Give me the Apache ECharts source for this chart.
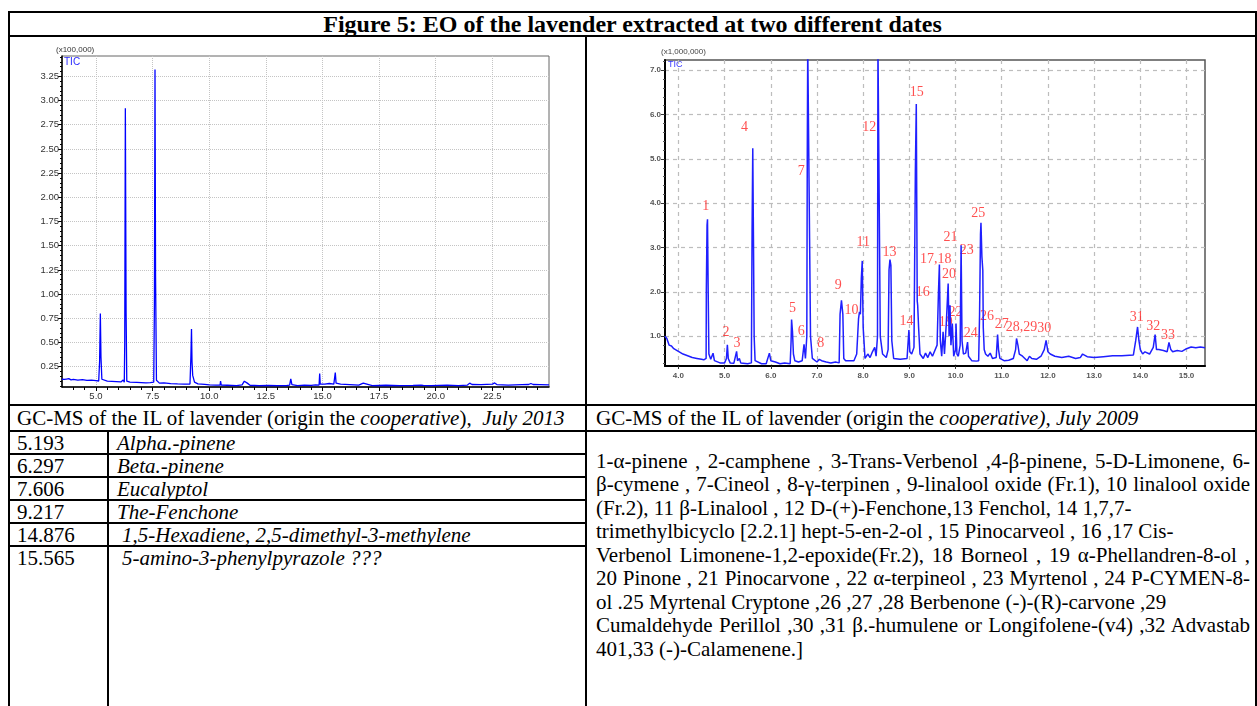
<!DOCTYPE html>
<html lang="en">
<head>
    <meta charset="UTF-8">
    <title>Figure 5: EO of the lavender</title>
    <style type="text/css">
        *{
            margin: 0;
            padding: 0;
        }
        body{
            width: 1257px;
            height: 706px;
            position: relative;
            overflow: hidden;
            background: #fff;
            font-family: "Liberation Serif", "Times New Roman", serif;
            color: #000;
        }
        .ln{ position: absolute; background: #000; }
        .t{
            position: absolute;
            font-size: 21px;
            line-height: 24px;
            white-space: nowrap;
        }
        .j{
            left: 596px;
            width: 654px;
            text-align: justify;
            text-align-last: justify;
        }
        .chart{ position: absolute; }
    </style>
</head>
<body>
    <!-- table lines -->
    <div class="ln" style="left:8px;top:11px;width:1249px;height:2px"></div>
    <div class="ln" style="left:8px;top:35px;width:1249px;height:2px"></div>
    <div class="ln" style="left:8px;top:404px;width:1249px;height:2px"></div>
    <div class="ln" style="left:8px;top:430px;width:1249px;height:2px"></div>
    <div class="ln" style="left:8px;top:453px;width:579px;height:2px"></div>
    <div class="ln" style="left:8px;top:476px;width:579px;height:2px"></div>
    <div class="ln" style="left:8px;top:499px;width:579px;height:2px"></div>
    <div class="ln" style="left:8px;top:522px;width:579px;height:2px"></div>
    <div class="ln" style="left:8px;top:545px;width:579px;height:2px"></div>
    <div class="ln" style="left:8px;top:11px;width:2px;height:695px"></div>
    <div class="ln" style="left:585px;top:36px;width:2px;height:670px"></div>
    <div class="ln" style="left:107px;top:431px;width:2px;height:275px"></div>
    <div class="ln" style="left:1255px;top:11px;width:2px;height:695px"></div>

    <div class="t" style="left:8px;width:1249px;top:12px;text-align:center;font-weight:bold;font-size:24px;line-height:24px">Figure 5: EO of the lavender extracted at two different dates</div>

    <div id="c1" class="chart" style="left:10px;top:38px;width:575px;height:366px"></div>
    <div id="c2" class="chart" style="left:588px;top:38px;width:667px;height:366px"></div>

    <div class="t" style="left:17px;top:406px">GC-MS of the IL of lavender (origin the <i>cooperative</i>),&nbsp; <i>July 2013</i></div>
    <div class="t" style="left:596px;top:406px">GC-MS of the IL of lavender (origin the <i>cooperative), July 2009</i></div>

    <div class="t" style="left:17px;top:431px">5.193</div>
    <div class="t" style="left:117px;top:431px"><i>Alpha.-pinene</i></div>
    <div class="t" style="left:17px;top:454px">6.297</div>
    <div class="t" style="left:117px;top:454px"><i>Beta.-pinene</i></div>
    <div class="t" style="left:17px;top:477px">7.606</div>
    <div class="t" style="left:117px;top:477px"><i>Eucalyptol</i></div>
    <div class="t" style="left:17px;top:500px">9.217</div>
    <div class="t" style="left:117px;top:500px"><i>The-Fenchone</i></div>
    <div class="t" style="left:17px;top:523px">14.876</div>
    <div class="t" style="left:122px;top:523px"><i>1,5-Hexadiene, 2,5-dimethyl-3-methylene</i></div>
    <div class="t" style="left:17px;top:546px">15.565</div>
    <div class="t" style="left:122px;top:546px"><i>5-amino-3-phenylpyrazole ???</i></div>

    <div class="t j" style="top:449px">1-α-pinene , 2-camphene , 3-Trans-Verbenol ,4-β-pinene, 5-D-Limonene, 6-</div>
    <div class="t j" style="top:472px">β-cymene , 7-Cineol , 8-γ-terpinen , 9-linalool oxide (Fr.1), 10 linalool oxide</div>
    <div class="t" style="left:596px;top:496px">(Fr.2), 11 β-Linalool , 12 D-(+)-Fenchone,13 Fenchol, 14 1,7,7-</div>
    <div class="t" style="left:596px;top:519px">trimethylbicyclo [2.2.1] hept-5-en-2-ol , 15 Pinocarveol , 16 ,17 Cis-</div>
    <div class="t j" style="top:543px">Verbenol Limonene-1,2-epoxide(Fr.2), 18 Borneol , 19 α-Phellandren-8-ol ,</div>
    <div class="t j" style="top:566px">20 Pinone , 21 Pinocarvone , 22 α-terpineol , 23 Myrtenol , 24 P-CYMEN-8-</div>
    <div class="t" style="left:596px;top:590px">ol .25 Myrtenal Cryptone ,26 ,27 ,28 Berbenone (-)-(R)-carvone ,29</div>
    <div class="t j" style="top:613px">Cumaldehyde Perillol ,30 ,31 β.-humulene or Longifolene-(v4) ,32 Advastab</div>
    <div class="t" style="left:596px;top:637px">401,33 (-)-Calamenene.]</div>

    <script src="https://cdn.jsdelivr.net/npm/echarts@6/dist/echarts.min.js"></script>
    <script type="text/javascript">
        // July 2013 TIC: [retention time (min), intensity (x100,000)]
        var tic2013 = [
            [3.5,0.12],[3.6,0.118],[3.7,0.122],[3.8,0.126],[3.9,0.114],[4.0,0.118],[4.2,0.112],[4.4,0.116],
            [4.6,0.108],[4.8,0.11],[5.0,0.105],[5.12,0.102],[5.16,0.30],[5.193,0.80],[5.22,0.35],[5.26,0.12],
            [5.3,0.106],[5.5,0.10],[5.7,0.098],[5.9,0.095],[6.1,0.092],[6.2,0.112],[6.25,0.09],[6.27,0.5],
            [6.297,2.92],[6.33,0.8],[6.36,0.10],[6.5,0.09],[6.8,0.088],[7.0,0.085],[7.2,0.082],[7.4,0.086],
            [7.55,0.09],[7.58,0.9],[7.606,3.32],[7.63,1.2],[7.67,0.11],[7.8,0.08],[8.0,0.082],[8.3,0.075],
            [8.6,0.072],[8.9,0.07],[9.15,0.07],[9.19,0.35],[9.217,0.64],[9.24,0.3],[9.27,0.16],[9.35,0.09],
            [9.5,0.072],[9.8,0.068],[10.0,0.062],[10.3,0.06],[10.48,0.06],[10.5,0.10],[10.53,0.06],[10.8,0.058],
            [11.2,0.055],[11.45,0.062],[11.55,0.10],[11.6,0.12],[11.68,0.08],[11.8,0.058],[12.2,0.055],[12.6,0.056],
            [13.0,0.054],[13.4,0.055],[13.55,0.06],[13.6,0.125],[13.65,0.065],[13.9,0.055],[14.2,0.06],[14.5,0.056],
            [14.7,0.062],[14.85,0.06],[14.876,0.18],[14.9,0.07],[15.1,0.07],[15.3,0.076],[15.5,0.07],[15.54,0.09],
            [15.565,0.19],[15.6,0.08],[15.8,0.07],[16.2,0.065],[16.6,0.06],[16.8,0.08],[16.85,0.06],[17.2,0.055],
            [17.8,0.058],[18.4,0.055],[19.0,0.057],[19.35,0.06],[19.4,0.072],[19.45,0.057],[19.8,0.055],[20.5,0.06],
            [21.0,0.055],[21.4,0.06],[21.5,0.08],[21.6,0.066],[22.0,0.065],[22.5,0.07],[22.6,0.082],[22.7,0.065],
            [23.2,0.06],[23.8,0.065],[24.1,0.066],[24.2,0.076],[24.3,0.066],[24.6,0.065],[25.0,0.062]
        ];
        var xLabels2013 = [5.0, 7.5, 10.0, 12.5, 15.0, 17.5, 20.0, 22.5];
        var xMinor2013 = [4.0,4.5,5.5,6.0,6.5,7.0,8.0,8.5,9.0,9.5,10.5,11.0,11.5,12.0,13.0,13.5,14.0,14.5,
            15.5,16.0,16.5,17.0,18.0,18.5,19.0,19.5,20.5,21.0,21.5,22.0,23.0,23.5,24.0,24.5];
        var yLabels2013 = [0.25,0.50,0.75,1.00,1.25,1.50,1.75,2.00,2.25,2.50,2.75,3.00,3.25];
        var yMinor2013 = [0.05,0.10,0.15,0.20,0.30,0.35,0.40,0.45,0.55,0.60,0.65,0.70,0.80,0.85,0.90,0.95,
            1.05,1.10,1.15,1.20,1.30,1.35,1.40,1.45,1.55,1.60,1.65,1.70,1.80,1.85,1.90,1.95,
            2.05,2.10,2.15,2.20,2.30,2.35,2.40,2.45,2.55,2.60,2.65,2.70,2.80,2.85,2.90,2.95,
            3.05,3.10,3.15,3.20,3.30,3.35,3.40,3.45];

        // July 2009 TIC: [retention time (min), intensity (x1,000,000)]
        var tic2009 = [
            [3.71,1.00],[3.75,0.95],[3.8,0.80],[3.85,0.78],[3.9,0.72],[4.0,0.66],[4.1,0.60],[4.2,0.56],
            [4.3,0.52],[4.4,0.50],[4.5,0.48],[4.55,0.47],[4.6,0.50],[4.605,2.05],[4.62,3.5],[4.63,3.64],
            [4.645,2.0],[4.66,0.6],[4.7,0.48],[4.75,0.62],[4.78,0.45],[4.9,0.40],[5.0,0.40],[5.04,0.50],
            [5.06,0.81],[5.08,0.50],[5.12,0.40],[5.2,0.39],[5.24,0.42],[5.26,0.66],[5.28,0.45],[5.32,0.50],
            [5.35,0.40],[5.5,0.38],[5.58,0.40],[5.595,3.35],[5.61,5.24],[5.625,3.2],[5.64,1.0],[5.66,0.45],
            [5.8,0.38],[5.9,0.38],[5.97,0.62],[6.0,0.45],[6.1,0.42],[6.2,0.38],[6.3,0.40],[6.42,0.38],
            [6.44,0.9],[6.45,1.38],[6.47,1.1],[6.49,0.6],[6.52,0.45],[6.6,0.42],[6.68,0.45],[6.72,0.82],
            [6.75,0.50],[6.78,1.0],[6.79,5.0],[6.80,7.6],[6.82,7.6],[6.84,3.2],[6.86,1.0],[6.9,0.50],
            [7.0,0.42],[7.05,0.48],[7.1,0.45],[7.2,0.42],[7.3,0.40],[7.4,0.42],[7.48,0.40],[7.5,1.5],
            [7.53,1.81],[7.56,1.5],[7.58,0.50],[7.62,0.45],[7.8,0.45],[7.86,0.6],[7.9,1.4],[7.92,1.55],
            [7.94,1.5],[7.96,2.3],[7.98,2.70],[8.0,1.2],[8.04,0.50],[8.1,0.60],[8.15,0.52],[8.2,0.65],
            [8.25,0.75],[8.28,0.55],[8.31,1.0],[8.32,7.6],[8.35,7.6],[8.37,1.0],[8.42,0.60],[8.5,0.52],
            [8.54,0.70],[8.56,2.5],[8.58,2.73],[8.6,2.6],[8.62,0.9],[8.66,0.50],[8.8,0.48],[8.95,0.50],
            [8.99,1.14],[9.01,0.65],[9.05,0.60],[9.1,0.75],[9.13,4.75],[9.15,6.24],[9.17,1.8],[9.18,1.70],
            [9.2,1.2],[9.23,0.60],[9.3,0.50],[9.35,0.62],[9.4,0.52],[9.45,0.65],[9.5,0.55],[9.6,0.80],
            [9.63,2.0],[9.65,2.62],[9.67,0.9],[9.7,0.55],[9.73,1.1],[9.76,0.60],[9.8,1.3],[9.84,2.19],
            [9.86,1.0],[9.88,1.70],[9.9,0.80],[9.93,1.29],[9.96,0.55],[10.0,0.70],[10.01,1.29],[10.03,0.60],
            [10.06,0.55],[10.1,0.80],[10.12,3.05],[10.14,0.90],[10.17,0.60],[10.22,0.62],[10.26,0.87],[10.28,0.55],
            [10.35,0.45],[10.45,0.44],[10.5,0.45],[10.52,1.5],[10.54,3.3],[10.55,3.56],[10.57,2.8],[10.59,2.49],
            [10.6,1.2],[10.62,0.70],[10.65,0.60],[10.7,0.55],[10.75,0.62],[10.8,0.50],[10.88,0.52],[10.91,1.04],
            [10.93,0.70],[10.96,0.50],[11.05,0.45],[11.15,0.46],[11.25,0.50],[11.3,0.70],[11.32,0.95],[11.35,0.80],
            [11.38,0.60],[11.45,0.55],[11.5,0.50],[11.55,0.45],[11.6,0.55],[11.65,0.50],[11.75,0.48],[11.85,0.55],
            [11.92,0.70],[11.96,0.91],[12.0,0.65],[12.05,0.60],[12.15,0.55],[12.3,0.52],[12.45,0.55],[12.6,0.50],
            [12.7,0.52],[12.75,0.60],[12.85,0.54],[13.0,0.52],[13.2,0.54],[13.4,0.56],[13.6,0.56],[13.85,0.58],
            [13.9,0.90],[13.94,1.21],[13.97,0.90],[14.0,0.70],[14.05,0.60],[14.1,0.65],[14.2,0.60],[14.28,0.75],
            [14.32,1.04],[14.35,0.70],[14.4,0.70],[14.5,0.68],[14.58,0.65],[14.62,0.86],[14.66,0.70],[14.7,0.65],
            [14.8,0.68],[14.9,0.66],[15.0,0.72],[15.1,0.76],[15.2,0.74],[15.3,0.76],[15.4,0.74]
        ];
        var peakNames = ['1','2','3','4','5','6','7','8','9','10','11','12','13','14','15','16','17,18','19',
            '20','21','22','23','24','25','26','27','28,29','30','31','32','33'];
        var peakLabelX = [4.59,5.03,5.27,5.43,6.47,6.66,6.66,7.08,7.46,7.75,8.00,8.13,8.57,8.94,9.16,9.29,9.57,9.79,
            9.86,9.89,10.0,10.24,10.33,10.49,10.68,11.0,11.43,11.92,13.92,14.28,14.60];
        var peakLabelY = [3.94,1.10,0.85,5.72,1.63,1.11,4.73,0.85,2.14,1.59,3.11,5.71,2.90,1.34,6.50,2.00,2.73,1.32,
            2.40,3.24,1.55,2.93,1.07,3.77,1.44,1.27,1.20,1.17,1.42,1.23,1.02];
        var xLabels2009 = [4,5,6,7,8,9,10,11,12,13,14,15];
        var yLabels2009 = [1,2,3,4,5,6,7];
        var yMinor2009 = [0.4,0.6,0.8,1.2,1.4,1.6,1.8,2.2,2.4,2.6,2.8,3.2,3.4,3.6,3.8,4.2,4.4,4.6,4.8,
            5.2,5.4,5.6,5.8,6.2,6.4,6.6,6.8,7.2];

        // ---- left: July 2013 ----
        var chart1 = echarts.init(document.getElementById('c1'));
        var sans = '"Liberation Sans", Arial, sans-serif';
        chart1.setOption({
            animation: false,
            grid: {left: 52, top: 18, right: 36, bottom: 17, show: true, borderColor: '#666', borderWidth: 1},
            xAxis: [{
                type: 'value', min: 3.5, max: 25,
                axisLine: {lineStyle: {color: '#000', width: 1.5}},
                axisTick: {customValues: xLabels2013, length: 4, lineStyle: {color: '#000'}},
                axisLabel: {customValues: xLabels2013, formatter: function (v) { return v.toFixed(1); },
                    fontSize: 9.5, color: '#333', margin: 4, fontFamily: sans},
                splitLine: {show: true, lineStyle: {type: 'dotted', color: '#c4c4c4'}}
            }, {
                type: 'value', min: 3.5, max: 25, position: 'bottom',
                axisLine: {show: false},
                axisTick: {customValues: xMinor2013, length: 3, lineStyle: {color: '#000'}},
                axisLabel: {show: false}, splitLine: {show: false}
            }],
            yAxis: [{
                type: 'value', min: 0.04, max: 3.46,
                axisLine: {show: true, lineStyle: {color: '#000', width: 1.5}},
                axisTick: {show: true, customValues: yLabels2013, length: 4, lineStyle: {color: '#000'}},
                axisLabel: {customValues: yLabels2013, formatter: function (v) { return v.toFixed(2); },
                    fontSize: 9.5, color: '#333', margin: 3, fontFamily: sans},
                splitLine: {show: true, lineStyle: {type: 'dotted', color: '#c4c4c4'}}
            }, {
                type: 'value', min: 0.04, max: 3.46, position: 'left',
                axisLine: {show: false},
                axisTick: {show: true, customValues: yMinor2013, length: 2, lineStyle: {color: '#000'}},
                axisLabel: {show: false}, splitLine: {show: false}
            }],
            graphic: [
                {type: 'text', left: 46, top: 8, style: {text: '(x100,000)', fontSize: 8, fill: '#333', fontFamily: sans}},
                {type: 'text', left: 54, top: 19, style: {text: 'TIC', fontSize: 10, fill: '#2a2aff', fontFamily: sans}}
            ],
            series: [{
                type: 'line', data: tic2013, showSymbol: false, xAxisIndex: 0, yAxisIndex: 0,
                lineStyle: {color: '#0000ff', width: 1.3}
            }]
        });

        // ---- right: July 2009 ----
        var chart2 = echarts.init(document.getElementById('c2'));
        var labelData = peakNames.map(function (n, i) {
            return {name: n, value: [peakLabelX[i], peakLabelY[i]]};
        });
        chart2.setOption({
            animation: false,
            grid: {left: 77, top: 22, right: 50, bottom: 38, show: true, borderColor: '#555', borderWidth: 1.5},
            xAxis: [{
                type: 'value', min: 3.71, max: 15.4,
                axisLine: {lineStyle: {color: '#000', width: 2}},
                axisTick: {customValues: xLabels2009, length: 3, lineStyle: {color: '#333'}},
                axisLabel: {customValues: xLabels2009, formatter: function (v) { return v.toFixed(1); },
                    fontSize: 8, fontWeight: 'bold', color: '#555', margin: 6, fontFamily: sans},
                splitLine: {show: true, lineStyle: {type: [4, 4], color: '#bdbdbd', width: 1.2}}
            }],
            yAxis: [{
                type: 'value', min: 0.33, max: 7.23,
                axisLine: {show: true, lineStyle: {color: '#000', width: 2}},
                axisTick: {show: true, customValues: yLabels2009, length: 4, lineStyle: {color: '#333'}},
                axisLabel: {customValues: yLabels2009, formatter: function (v) { return v.toFixed(1); },
                    fontSize: 8, fontWeight: 'bold', color: '#555', margin: 4, fontFamily: sans},
                splitLine: {show: true, lineStyle: {type: [4, 4], color: '#bdbdbd', width: 1.2}}
            }, {
                type: 'value', min: 0.33, max: 7.23, position: 'left',
                axisLine: {show: false},
                axisTick: {show: true, customValues: yMinor2009, length: 2, lineStyle: {color: '#555'}},
                axisLabel: {show: false}, splitLine: {show: false}
            }],
            graphic: [
                {type: 'text', left: 73, top: 10, style: {text: '(x1,000,000)', fontSize: 8, fill: '#444', fontFamily: sans}},
                {type: 'text', left: 80, top: 22, style: {text: 'TIC', fontSize: 9, fill: '#3333ff', fontFamily: sans}}
            ],
            series: [{
                type: 'line', data: tic2009, showSymbol: false, yAxisIndex: 0,
                lineStyle: {color: '#1f1fff', width: 1.5}
            }, {
                type: 'scatter', data: labelData, symbolSize: 0, yAxisIndex: 0, clip: false,
                label: {show: true, position: 'inside', formatter: '{b}', color: '#ff2424', fontSize: 14,
                    fontFamily: '"Liberation Serif", serif'}
            }]
        });
    </script>
</body>
</html>
